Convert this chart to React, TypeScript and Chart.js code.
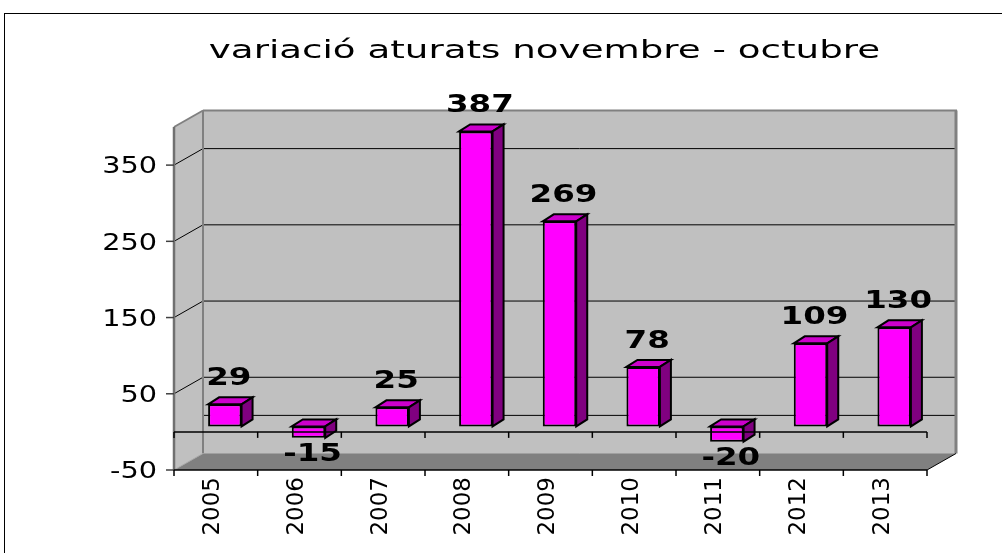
import React, { useEffect, useRef } from "react";
import { Chart, registerables } from "chart.js";

Chart.register(...registerables);

const TITLE = "variació aturats novembre - octubre";
const CATEGORIES = ["2005", "2006", "2007", "2008", "2009", "2010", "2011", "2012", "2013"];
const VALUES = [29, -15, 25, 387, 269, 78, -20, 109, 130];
const Y_TICKS = [-50, 50, 150, 250, 350];
const Y_BACK_EXTRA = [0];
const Y_MIN = -50;
const Y_MAX = 400;

// 3D geometry (pixels)
const WALL_DX = 29;
const WALL_DY = -16.5;
const BAR_DX = 9;
const BAR_DY = -5.5;
const DEPTH_DX = 11;
const DEPTH_DY = -7;

function stretched(ctx: CanvasRenderingContext2D, text: string, x: number, y: number, sx: number, align: CanvasTextAlign) {
  ctx.save();
  ctx.translate(x, y);
  ctx.scale(sx, 1);
  ctx.textAlign = align;
  ctx.textBaseline = "alphabetic";
  ctx.fillText(text, 0, 0);
  ctx.restore();
}

function poly(ctx: CanvasRenderingContext2D, pts: number[][], fill: string | null, stroke: string | null, lw = 1) {
  ctx.beginPath();
  pts.forEach((p, i) => (i === 0 ? ctx.moveTo(p[0], p[1]) : ctx.lineTo(p[0], p[1])));
  ctx.closePath();
  if (fill) {
    ctx.fillStyle = fill;
    ctx.fill();
  }
  if (stroke) {
    ctx.strokeStyle = stroke;
    ctx.lineWidth = lw;
    ctx.lineJoin = "miter";
    ctx.stroke();
  }
}

function line(ctx: CanvasRenderingContext2D, x1: number, y1: number, x2: number, y2: number, color: string, lw: number) {
  ctx.beginPath();
  ctx.moveTo(x1, y1);
  ctx.lineTo(x2, y2);
  ctx.strokeStyle = color;
  ctx.lineWidth = lw;
  ctx.stroke();
}

const excel3d = {
  id: "excel3d",
  beforeDraw(chart: any) {
    const { ctx, chartArea: a, scales } = chart;
    const ys = scales.y;
    const xs = scales.x;
    const L = a.left, R = a.right, T = a.top, B = a.bottom;
    ctx.save();
    ctx.fillStyle = "#ffffff";
    ctx.fillRect(0, 0, chart.width, chart.height);
    // outer frame
    ctx.strokeStyle = "#000000";
    ctx.lineWidth = 1;
    ctx.strokeRect(4.5, 13.5, chart.width + 40, chart.height + 40);

    // title
    ctx.fillStyle = "#000000";
    ctx.font = '24px "DejaVu Sans"';
    stretched(ctx, TITLE, 544.5, 58, 1.55, "center");

    // back wall
    poly(ctx, [[L + WALL_DX, T + WALL_DY], [R + WALL_DX, T + WALL_DY], [R + WALL_DX, B + WALL_DY], [L + WALL_DX, B + WALL_DY]], "#c0c0c0", null);
    // side wall
    poly(ctx, [[L, T], [L + WALL_DX, T + WALL_DY], [L + WALL_DX, B + WALL_DY], [L, B]], "#c0c0c0", null);
    // floor
    poly(ctx, [[L, B], [L + WALL_DX, B + WALL_DY], [R + WALL_DX, B + WALL_DY], [R, B]], "#808080", null);

    // gridlines
    Y_TICKS.forEach((v) => {
      if (v <= Y_MIN) return;
      const yy = ys.getPixelForValue(v);
      line(ctx, L + WALL_DX, yy + WALL_DY, R + WALL_DX, yy + WALL_DY, "#000000", 1);
      line(ctx, L, yy, L + WALL_DX, yy + WALL_DY, "#000000", 1);
    });
    Y_BACK_EXTRA.forEach((v) => {
      const yy = ys.getPixelForValue(v);
      line(ctx, L + WALL_DX, yy + WALL_DY, R + WALL_DX, yy + WALL_DY, "#000000", 1);
    });

    // wall edges
    const edge = "#808080";
    line(ctx, L + WALL_DX, T + WALL_DY, R + WALL_DX + 1, T + WALL_DY, edge, 2);
    line(ctx, R + WALL_DX, T + WALL_DY, R + WALL_DX, B + WALL_DY, edge, 3);
    line(ctx, L + WALL_DX, T + WALL_DY, L + WALL_DX, B + WALL_DY, edge, 2);
    line(ctx, L, T, L + WALL_DX, T + WALL_DY, edge, 2);
    line(ctx, L + WALL_DX, B + WALL_DY, R + WALL_DX, B + WALL_DY, "#a0a0a0", 1);
    line(ctx, L, B, L + WALL_DX, B + WALL_DY, "#a8a8a8", 1);
    line(ctx, R, B, R + WALL_DX, B + WALL_DY, "#000000", 1);
    line(ctx, L, T, L, B, "#707070", 2.5);

    // y ticks and labels
    ctx.fillStyle = "#000000";
    ctx.font = '23px "DejaVu Sans"';
    Y_TICKS.forEach((v) => {
      const yy = ys.getPixelForValue(v);
      line(ctx, L - 8, yy, L, yy, "#404040", 1.5);
      stretched(ctx, String(v), L - 17, yy + 8.3, 1.25, "right");
    });

    // floor front edge with ticks
    const cw = xs.getPixelForValue(1) - xs.getPixelForValue(0);
    line(ctx, L, B, R, B, "#000000", 1.5);
    for (let i = 0; i <= CATEGORIES.length; i++) {
      const bx = i < CATEGORIES.length ? xs.getPixelForValue(i) - cw / 2 : xs.getPixelForValue(CATEGORIES.length - 1) + cw / 2;
      line(ctx, bx, B, bx, B + 6, "#000000", 1.5);
    }

    // x labels (rotated)
    ctx.font = '23px "DejaVu Sans"';
    ctx.fillStyle = "#000000";
    CATEGORIES.forEach((c, i) => {
      const cx = xs.getPixelForValue(i);
      ctx.save();
      ctx.translate(cx + 3.5, B + 7);
      ctx.rotate(-Math.PI / 2);
      ctx.textAlign = "right";
      ctx.textBaseline = "alphabetic";
      ctx.fillText(c, 0, 0);
      ctx.restore();
    });
    ctx.restore();
  },
  beforeDatasetsDraw(chart: any) {
    chart.ctx.save();
    chart.ctx.translate(BAR_DX, BAR_DY);
  },
  afterDatasetsDraw(chart: any) {
    const { ctx, chartArea: a, scales } = chart;
    const meta = chart.getDatasetMeta(0);
    meta.data.forEach((el: any) => {
      const p = el.getProps(["x", "y", "base", "width"], true);
      const left = p.x - p.width / 2;
      const right = p.x + p.width / 2;
      const top = Math.min(p.y, p.base);
      const bottom = Math.max(p.y, p.base);
      poly(ctx, [[left, top], [left + DEPTH_DX, top + DEPTH_DY], [right + DEPTH_DX, top + DEPTH_DY], [right, top]], "#cc00cc", "#000000", 2);
      poly(ctx, [[right, top], [right + DEPTH_DX, top + DEPTH_DY], [right + DEPTH_DX, bottom + DEPTH_DY], [right, bottom]], "#800080", "#000000", 2);
    });
    ctx.restore();

    // front zero axis line with ticks
    const ys = scales.y;
    const xs = scales.x;
    const L = a.left, R = a.right;
    const y0 = ys.getPixelForValue(0);
    const cw = xs.getPixelForValue(1) - xs.getPixelForValue(0);
    ctx.save();
    line(ctx, L, y0, R, y0, "#000000", 1.5);
    for (let i = 0; i <= CATEGORIES.length; i++) {
      const bx = xs.getPixelForValue(0) - cw / 2 + i * cw;
      line(ctx, bx, y0, bx, y0 + 6, "#000000", 1.5);
    }

    // data labels
    ctx.fillStyle = "#000000";
    ctx.font = 'bold 25px "DejaVu Sans"';
    meta.data.forEach((el: any, i: number) => {
      const p = el.getProps(["x", "y", "base"], true);
      const v = VALUES[i];
      const cx = p.x + BAR_DX + 4;
      let by: number;
      if (v >= 0) by = p.y + BAR_DY + DEPTH_DY - 12;
      else by = p.y + BAR_DY + 5 + 18;
      stretched(ctx, String(v), cx, by, 1.3, "center");
    });
    ctx.restore();
  },
};

export default function App() {
  const ref = useRef<HTMLCanvasElement | null>(null);
  useEffect(() => {
    if (!ref.current) return;
    const chart = new Chart(ref.current, {
      type: "bar",
      data: {
        labels: CATEGORIES,
        datasets: [
          {
            data: VALUES,
            backgroundColor: "#ff00ff",
            borderColor: "#000000",
            borderWidth: 2,
            borderSkipped: false,
            categoryPercentage: 1,
            barPercentage: 0.4,
            clip: false as any,
          },
        ],
      },
      options: {
        responsive: false,
        animation: false,
        devicePixelRatio: 1,
        layout: { padding: { left: 174, right: 75, top: 127, bottom: 83 } },
        plugins: {
          legend: { display: false },
          tooltip: { enabled: false },
          title: { display: false },
        },
        scales: {
          x: { display: false, offset: true },
          y: { display: false, min: Y_MIN, max: Y_MAX },
        },
      },
      plugins: [excel3d],
    });
    return () => chart.destroy();
  }, []);
  return (
    <div style={{ position: "absolute", left: 0, top: 0, width: 1002, height: 553 }}>
      <canvas ref={ref} width={1002} height={553} style={{ display: "block" }} />
    </div>
  );
}
